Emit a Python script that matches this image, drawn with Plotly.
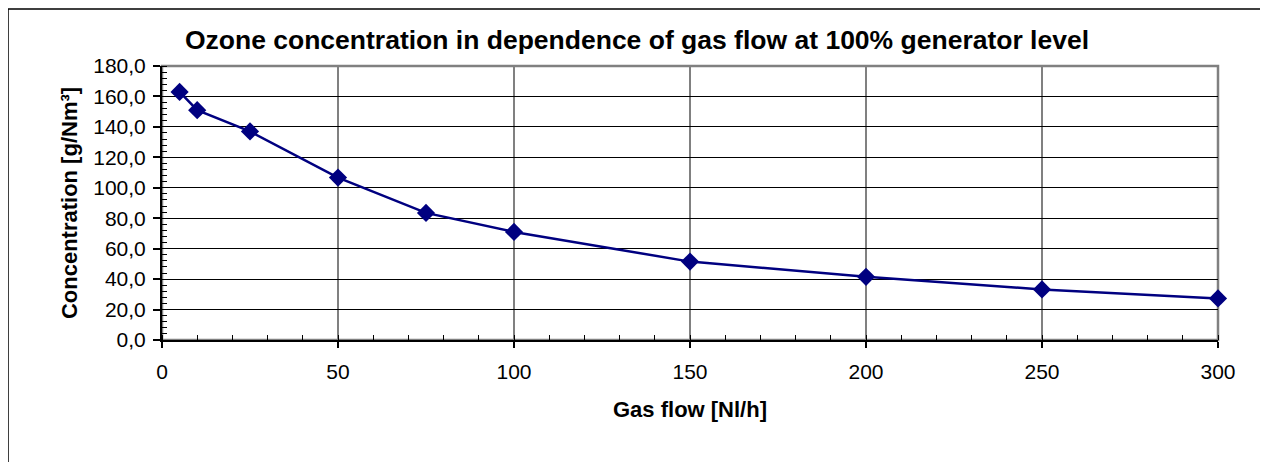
import plotly.graph_objects as go

gas_flow = [5, 10, 25, 50, 75, 100, 150, 200, 250, 300]
concentration = [163.0, 151.0, 137.0, 106.7, 83.5, 71.0, 51.5, 41.5, 33.2, 27.3]
title_text = "Ozone concentration in dependence of gas flow at 100% generator level"
x_title = "Gas flow [Nl/h]"
y_title = "Concentration [g/Nm³]"

OFF = 8  # page body margin
W, H = 1268 - OFF, 462 - OFF
L, R, T, B = 162 - OFF, 1218 - OFF, 66 - OFF, 340 - OFF


def px_x(p):
    return (p - OFF - L) / (R - L)


def px_y(p):
    return (B - (p - OFF)) / (B - T)


FONT = "Liberation Sans, Arial, sans-serif"
NAVY = "#000080"

fig = go.Figure()
fig.add_trace(go.Scatter(
    x=gas_flow, y=concentration, mode="lines+markers",
    line=dict(color=NAVY, width=2.5),
    marker=dict(symbol="diamond", size=14, color=NAVY),
    showlegend=False, cliponaxis=False,
))

fig.update_layout(
    width=W, height=H,
    margin=dict(l=L, r=W - R, t=T, b=H - B, pad=0),
    paper_bgcolor="white", plot_bgcolor="white",
    separators=", ",
    font=dict(family=FONT, size=21, color="black"),
    title=dict(text=title_text, x=(637 - OFF) / W, xanchor="center", xref="container",
               y=1 - (40 - OFF) / H, yanchor="middle",
               font=dict(family=FONT, size=26.5, color="black", weight="bold")),
    xaxis=dict(
        range=[0, 300], dtick=50, tick0=0,
        showgrid=True, gridcolor="#808080", gridwidth=1.5,
        showline=True, linecolor="black", linewidth=2,
        ticks="outside", ticklen=6, tickcolor="black", tickwidth=1.5,
        minor=dict(dtick=10, ticks="inside", ticklen=5, tickcolor="black", tickwidth=1, showgrid=False),
        tickfont=dict(family=FONT, size=21), zeroline=False, ticklabelstandoff=6,
        title=dict(text=x_title, font=dict(family=FONT, size=22, weight="bold"), standoff=19),
    ),
    yaxis=dict(
        range=[0, 180], dtick=20, tick0=0, tickformat=".1f",
        showgrid=True, gridcolor="black", gridwidth=1,
        showline=True, linecolor="black", linewidth=2,
        ticks="outside", ticklen=7, tickcolor="black", tickwidth=1.5,
        minor=dict(dtick=4, ticks="inside", ticklen=5, tickcolor="black", tickwidth=1, showgrid=False),
        tickfont=dict(family=FONT, size=21), zeroline=False, ticklabelstandoff=3,
        title=dict(text=y_title, font=dict(family=FONT, size=22, weight="bold"), standoff=10),
    ),
    shapes=[
        dict(type="rect", xref="paper", yref="paper", x0=0, x1=1, y0=0, y1=1,
             line=dict(color="#808080", width=2.5), layer="below"),
        dict(type="rect", xref="paper", yref="paper",
             x0=px_x(8), x1=px_x(1263), y0=px_y(480), y1=px_y(9),
             line=dict(color="black", width=1.5), layer="above"),
    ],
)

fig.write_html("out.html")
